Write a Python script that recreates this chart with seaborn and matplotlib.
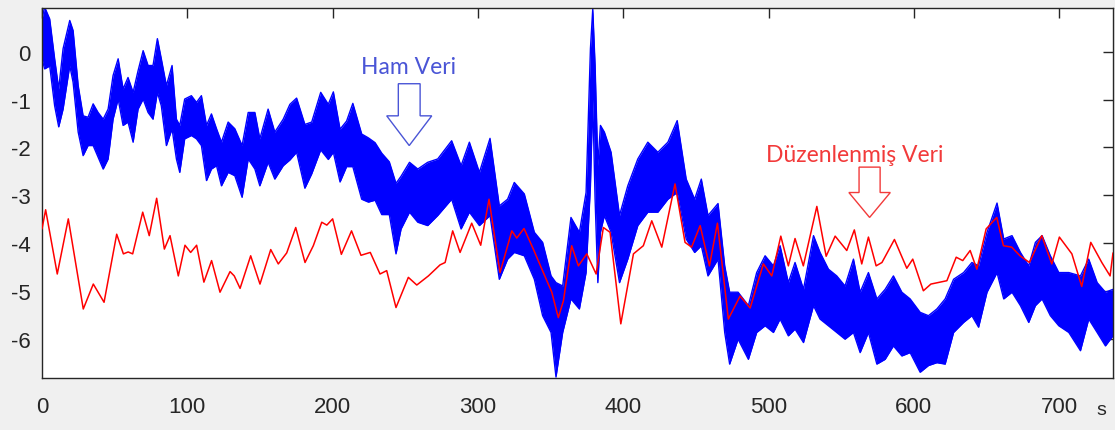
import numpy as np
import pandas as pd
import matplotlib
matplotlib.use("Agg")
import matplotlib.pyplot as plt
from matplotlib.patches import FancyArrow
import seaborn as sns

# ---------------- data ----------------
red_x = [0, 2.5, 10.5, 18.1, 28.4, 35.3, 42.7, 51.4, 56, 59.3, 62.4, 69.3, 73.8, 78.9,
         84.2, 88.1, 93.8, 98.4, 102.3, 106.4, 111.4, 116.7, 122.5, 129.4, 132.3, 136.3,
         143.6, 150, 157.4, 162.6, 168.4, 174.6, 181, 186.7, 192.5, 196, 200, 206, 213,
         219.5, 225.9, 232.6, 237.2, 243.6, 252.1, 257.9, 265.9, 273.9, 277.4, 282.6,
         287.7, 295.7, 301.9, 307.6, 315.2, 323.3, 326.7, 331.7, 338.1, 345, 350.8, 355.3,
         358.8, 364.5, 369.1, 374.9, 381.3, 386.3, 390.9, 398.3, 407, 413.8, 419.6, 426.5,
         435.6, 442.5, 447, 452.9, 459.3, 464.8, 472.3, 480.4, 487.3, 496.4, 502.2, 508.4,
         513.6, 518.2, 523.9, 533.2, 539.6, 545.8, 553.8, 559, 564.1, 568.7, 574, 578,
         586.6, 595.1, 599.2, 606.5, 611.7, 622.7, 629.1, 633.6, 638.7, 643.3, 649.7, 657,
         661.6, 667.3, 673, 679.5, 688, 694.9, 700.1, 708.7, 715.5, 721.7, 729.3, 735, 737]
red_y = [-3.70, -3.30, -4.64, -3.49, -5.37, -4.85, -5.23, -3.81, -4.22, -4.18, -4.22, -3.35,
         -3.84, -3.06, -4.12, -3.84, -4.68, -4.04, -4.19, -4.04, -4.81, -4.36, -5.02, -4.59,
         -4.68, -4.94, -4.26, -4.85, -4.13, -4.43, -4.20, -3.67, -4.40, -4.05, -3.56, -3.62,
         -3.49, -4.23, -3.74, -4.25, -4.19, -4.64, -4.57, -5.34, -4.71, -4.87, -4.68, -4.45,
         -4.40, -3.74, -4.19, -3.58, -4.04, -3.08, -4.61, -3.74, -3.89, -3.69, -4.12, -4.61,
         -5.02, -5.55, -5.20, -4.05, -4.47, -4.22, -4.64, -3.67, -3.77, -5.68, -4.22, -4.05,
         -3.53, -4.08, -2.76, -3.98, -4.08, -3.63, -4.47, -3.58, -5.58, -5.10, -5.35, -4.43,
         -4.68, -3.85, -4.47, -3.90, -4.47, -3.23, -4.27, -3.85, -4.15, -3.72, -4.43, -3.87,
         -4.47, -4.40, -3.92, -4.52, -4.33, -4.99, -4.85, -4.78, -4.29, -4.36, -4.15, -4.54,
         -3.70, -3.46, -4.05, -4.08, -4.26, -4.40, -3.84, -4.43, -3.87, -4.22, -4.90, -3.98,
         -4.40, -4.68, -4.20]

blue_x = [0, 1.8, 5.3, 8.7, 11.5, 14.5, 19.1, 21.4, 24.9, 28.3, 31.7, 35.2, 38.6, 42.1, 45.5,
          48.9, 52.4, 55.8, 59.2, 62.7, 66.1, 69.6, 73, 76.4, 79.4, 82.1, 85.6, 89.5, 92.5,
          94.8, 98.2, 102.8, 106.3, 109.7, 113.2, 116.6, 120.1, 123.5, 128.1, 132.7, 137.7,
          141.9, 146.5, 149.9, 155.6, 160.2, 166, 170.6, 175.2, 180.9, 185.6, 191.8, 197,
          200.5, 205.1, 209.6, 213.9, 220, 224.6, 229.2, 233.8, 239, 243.6, 247.1, 252.9,
          258.6, 265.4, 272.3, 281.9, 288.4, 294.1, 301, 308.3, 314.7, 320.4, 325, 331.9,
          338.8, 344.5, 350.3, 353.7, 358.3, 364, 369.8, 374.4, 377.4, 379, 380.6, 382.5,
          384.3, 387, 391.6, 397.4, 403.1, 410, 416.9, 423.8, 430.7, 437.1, 443.3, 449.1,
          453.7, 458.3, 465.2, 469.8, 473.2, 479, 486.1, 491.8, 497.6, 503.3, 507.9, 513.6,
          518.2, 524, 530.9, 535.4, 541.2, 546.9, 552.6, 558.4, 563, 568.7, 574.5, 580.2,
          585.9, 591.7, 597.4, 604.3, 610, 615.8, 621.5, 627.3, 634.2, 639.9, 644.5, 650.3,
          657.2, 661.8, 667.5, 673.3, 679, 683.6, 688.2, 693.9, 699.7, 706.6, 714.6, 720.3,
          726.1, 731.8, 737]
blue_hi = [0.68, 0.93, 0.68, -0.15, -0.78, 0.06, 0.65, 0.44, -0.71, -1.34, -1.37, -1.09, -1.27,
           -1.41, -1.20, -0.50, -0.15, -0.78, -0.54, -0.85, -0.40, 0.02, -0.29, -0.29, 0.27,
           -0.15, -0.71, -0.29, -1.41, -1.54, -0.99, -0.92, -1.06, -0.92, -1.54, -1.30, -1.61,
           -1.89, -1.47, -1.61, -1.96, -1.27, -1.27, -1.82, -1.20, -1.68, -1.41, -1.10, -0.97,
           -1.52, -1.47, -0.85, -1.10, -0.84, -1.62, -1.45, -1.08, -1.72, -1.80, -1.90, -2.12,
           -2.30, -2.75, -2.60, -2.31, -2.45, -2.31, -2.24, -1.86, -2.38, -1.89, -2.52, -1.81,
           -3.22, -3.08, -2.73, -2.97, -3.77, -3.98, -4.68, -4.82, -4.89, -3.46, -3.77, -2.94,
           0.06, 0.89, -0.29, -2.38, -1.54, -1.68, -2.10, -3.42, -2.80, -2.24, -1.89, -2.10,
           -1.89, -1.44, -2.66, -3.08, -2.66, -3.42, -3.17, -4.47, -5.02, -5.02, -5.30, -4.61,
           -4.26, -4.47, -4.05, -4.82, -4.40, -4.96, -3.84, -4.19, -4.54, -4.68, -4.89, -4.33,
           -5.02, -4.61, -5.16, -4.96, -4.68, -5.02, -5.16, -5.44, -5.51, -5.37, -5.16, -4.75,
           -4.61, -4.40, -4.47, -3.77, -3.16, -3.91, -3.84, -4.19, -4.47, -3.98, -3.84, -4.26,
           -4.61, -4.61, -4.68, -4.33, -4.82, -5.02, -4.96]
blue_lo = [-0.15, -0.36, -0.30, -1.13, -1.57, -1.20, -0.29, -0.64, -1.68, -2.17, -1.96, -1.96,
           -2.20, -2.45, -2.24, -1.41, -0.99, -1.54, -1.47, -1.89, -1.20, -0.99, -1.27, -1.41,
           -0.85, -1.13, -1.96, -1.61, -2.24, -2.52, -1.82, -1.75, -1.82, -1.96, -2.69, -2.45,
           -2.38, -2.80, -2.52, -2.59, -3.04, -2.24, -2.45, -2.80, -2.31, -2.66, -2.38, -2.26,
           -2.10, -2.85, -2.55, -2.05, -2.25, -2.10, -2.72, -2.40, -2.40, -3.08, -3.14, -3.10,
           -3.40, -3.40, -4.22, -3.70, -3.35, -3.56, -3.63, -3.42, -3.08, -3.70, -3.35, -3.63,
           -3.42, -4.75, -4.33, -4.19, -4.26, -4.75, -5.51, -5.86, -6.79, -5.86, -5.16, -5.37,
           -4.61, -2.80, -0.99, -3.08, -4.82, -3.77, -3.42, -3.77, -4.82, -4.33, -3.63, -3.35,
           -3.35, -3.08, -2.94, -3.91, -4.19, -4.05, -4.68, -4.33, -5.86, -6.52, -6.00, -6.42,
           -5.86, -5.72, -5.86, -5.58, -5.93, -5.79, -6.07, -5.30, -5.58, -5.72, -5.86, -6.00,
           -5.86, -6.28, -5.86, -6.52, -6.42, -6.14, -6.35, -6.28, -6.69, -6.55, -6.49, -6.52,
           -5.86, -5.65, -5.51, -5.75, -5.02, -4.61, -5.16, -5.02, -5.30, -5.65, -5.30, -5.16,
           -5.51, -5.72, -5.86, -6.24, -5.58, -5.86, -6.14, -5.93]

x_ticks = [0, 100, 200, 300, 400, 500, 600, 700]
y_ticks = [-6, -5, -4, -3, -2, -1, 0]
x_unit = "s"
label_raw = "Ham Veri"
label_filtered = "Düzenlenmiş Veri"

# ---------------- styling ----------------
sns.set_theme(style="white")
plt.rcParams["font.family"] = ["Liberation Sans", "DejaVu Sans"]

BLUE = "#0000ff"
RED = "#ff0000"
ANN_BLUE = "#4a55d6"
ANN_RED = "#f23a3a"

fig = plt.figure(figsize=(11.15, 4.31), dpi=100, facecolor="#f0f0f0")
ax = fig.add_axes([42 / 1115, 1 - 379 / 431, (1113 - 42) / 1115, (379 - 9) / 431])
ax.set_facecolor("white")

red_df = pd.DataFrame({"t": red_x, "v": red_y})
blue_df = pd.DataFrame({"t": blue_x, "hi": blue_hi, "lo": blue_lo})

ax.fill_between(blue_df["t"], blue_df["lo"], blue_df["hi"], color=BLUE, lw=0, zorder=2)
sns.lineplot(data=blue_df, x="t", y="hi", color=BLUE, lw=1.0, ax=ax, zorder=2)
sns.lineplot(data=blue_df, x="t", y="lo", color=BLUE, lw=1.0, ax=ax, zorder=2)
sns.lineplot(data=red_df, x="t", y="v", color=RED, lw=1.1, ax=ax, zorder=3)

ax.set_xlim(0, 737)
ax.set_ylim(-6.81, 0.91)
ax.set_xticks(x_ticks)
ax.set_yticks(y_ticks)
ax.set_xticklabels([str(v) for v in x_ticks])
ax.set_yticklabels([str(v) for v in y_ticks])
ax.set_xlabel("")
ax.set_ylabel("")
ax.tick_params(axis="both", direction="in", length=7, width=1, color="#262626",
               top=True, right=True, labelsize=16, labelcolor="#262626")
ax.tick_params(axis="x", pad=13)
ax.tick_params(axis="y", pad=8)
for sp in ax.spines.values():
    sp.set_color("#262626")
    sp.set_linewidth(1.0)
    sp.set_visible(True)

fig.text(1101 / 1115, 1 - 411 / 431, x_unit, fontsize=14, color="#262626",
         ha="center", va="center")

# annotations
ax.text(252, -0.32, label_raw, color=ANN_BLUE, fontsize=16.5, family=["Lato", "DejaVu Sans"],
        ha="center", va="center", zorder=5)
ax.add_patch(FancyArrow(252.7, -0.67, 0, -1.29, width=15, head_width=31, head_length=0.62,
                        length_includes_head=True, fc="white", ec=ANN_BLUE, lw=1.0, zorder=5))
ax.text(559.5, -2.14, label_filtered, color=ANN_RED, fontsize=16.5,
        family=["Lato", "DejaVu Sans"], ha="center", va="center", zorder=5)
ax.add_patch(FancyArrow(569.5, -2.41, 0, -1.05, width=14.5, head_width=28.5, head_length=0.52,
                        length_includes_head=True, fc="white", ec=ANN_RED, lw=1.0, zorder=5))

fig.savefig("out.png", dpi=100, facecolor=fig.get_facecolor())
